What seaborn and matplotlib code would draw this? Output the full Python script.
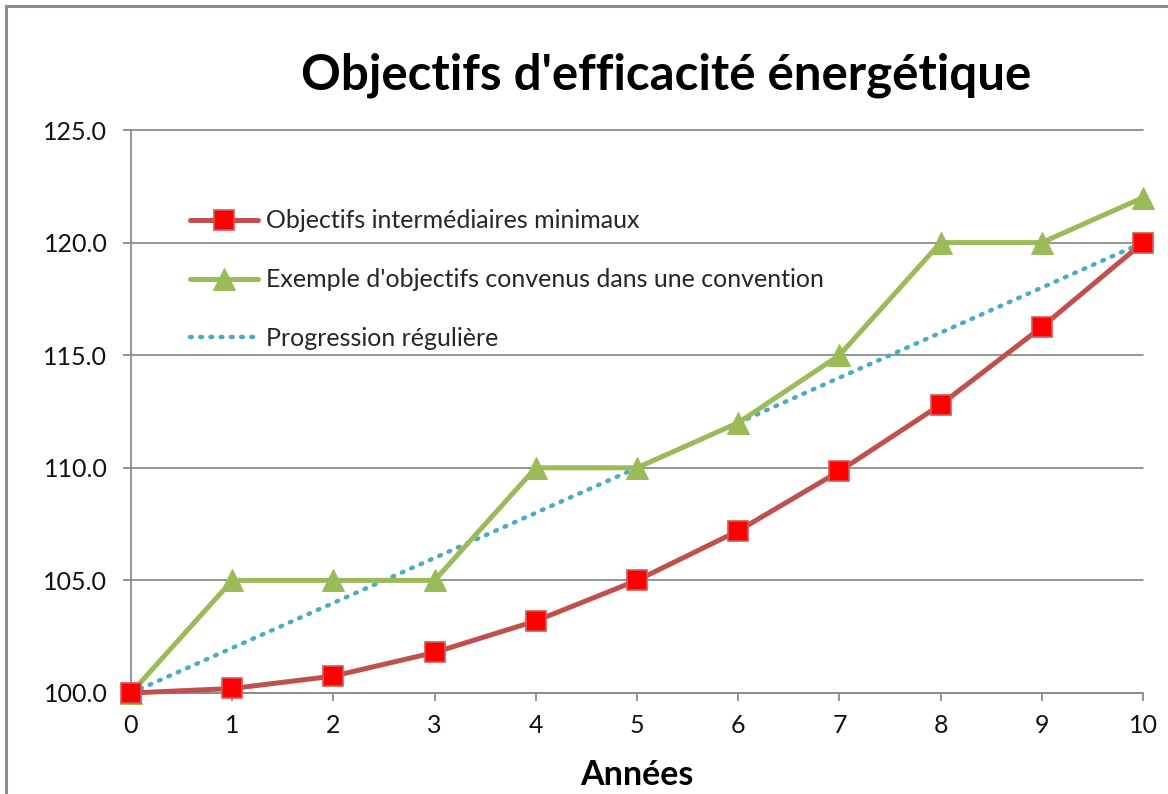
import matplotlib
matplotlib.use("Agg")
import matplotlib.pyplot as plt
import seaborn as sns
import pandas as pd
from matplotlib.patches import Rectangle

years = list(range(11))
minimaux = [100.0, 100.2, 100.75, 101.8, 103.2, 105.0, 107.2, 109.85, 112.8, 116.25, 120.0]
convention = [100, 105, 105, 105, 110, 110, 112, 115, 120, 120, 122]
reguliere = [100, 102, 104, 106, 108, 110, 112, 114, 116, 118, 120]

labels = ["Objectifs intermédiaires minimaux",
          "Exemple d'objectifs convenus dans une convention",
          "Progression régulière"]
yticks = [100, 105, 110, 115, 120, 125]

sns.set_theme(style="white")
plt.rcParams['font.family'] = ['Lato', 'DejaVu Sans']

W, H = 1168, 794
fig = plt.figure(figsize=(W / 100, H / 100), dpi=100)
ax = fig.add_axes([131 / W, 1 - 693 / H, (1143 - 131) / W, (693 - 130) / H])

# chart border
fig.patches.append(Rectangle((6 / W, -0.05), 1.2, 1 - 6 / H + 0.05, transform=fig.transFigure,
                             fill=False, edgecolor="#8c8c8c", linewidth=2.2, zorder=0))

for yv in yticks:
    ax.axhline(yv, color="#8c8c8c", linewidth=1.3, zorder=0)

sns.lineplot(x=years, y=reguliere, ax=ax, color="#4BACC6", linewidth=3.2,
             linestyle=(0, (0.4, 1.9)), dash_capstyle="round", label=labels[2], zorder=2)
sns.lineplot(x=years, y=convention, ax=ax, color="#9BBB59", linewidth=3.6,
             marker="^", markersize=16, markerfacecolor="#9BBB59", markeredgecolor="#9BBB59",
             label=labels[1], zorder=3)
sns.lineplot(x=years, y=minimaux, ax=ax, color="#C0504D", linewidth=3.6,
             marker="s", markersize=14, markerfacecolor="#FF0000", markeredgecolor="#D05A58",
             markeredgewidth=1.2, label=labels[0], zorder=4)

ax.set_xlim(0, 10)
ax.set_ylim(100, 125)
ax.set_xticks(years)
ax.set_yticks(yticks)
ax.set_yticklabels([f"{v:.1f}" for v in yticks])
ax.tick_params(axis="both", labelsize=18, colors="#8c8c8c", labelcolor="#111111",
               length=6, width=1.3, direction="out", bottom=True, left=True)
ax.tick_params(axis="x", pad=9)
ax.tick_params(axis="y", pad=11)
for s in ["top", "right"]:
    ax.spines[s].set_visible(False)
for s in ["left", "bottom"]:
    ax.spines[s].set_color("#8c8c8c")
    ax.spines[s].set_linewidth(1.3)
ax.set_xlabel("")
ax.set_ylabel("")
for ln in ax.lines:
    ln.set_clip_on(False)

h, l = ax.get_legend_handles_labels()
order = [l.index(lab) for lab in labels]
ax.legend([h[i] for i in order], [l[i] for i in order], loc="upper left",
          bbox_to_anchor=(177 / W, 1 - 197 / H), bbox_transform=fig.transFigure,
          frameon=False, fontsize=18, handlelength=2.75, handletextpad=0.3,
          labelspacing=1.43, borderpad=0)

fig.text(666 / W, 1 - 75 / H, "Objectifs d'efficacité énergétique", ha="center", va="center",
         fontsize=35.5, fontweight="bold", color="#000000")
fig.text(637 / W, 1 - 775 / H, "Années", ha="center", va="center",
         fontsize=24.5, fontweight="bold", color="#000000")

fig.savefig("out.png", dpi=100)
